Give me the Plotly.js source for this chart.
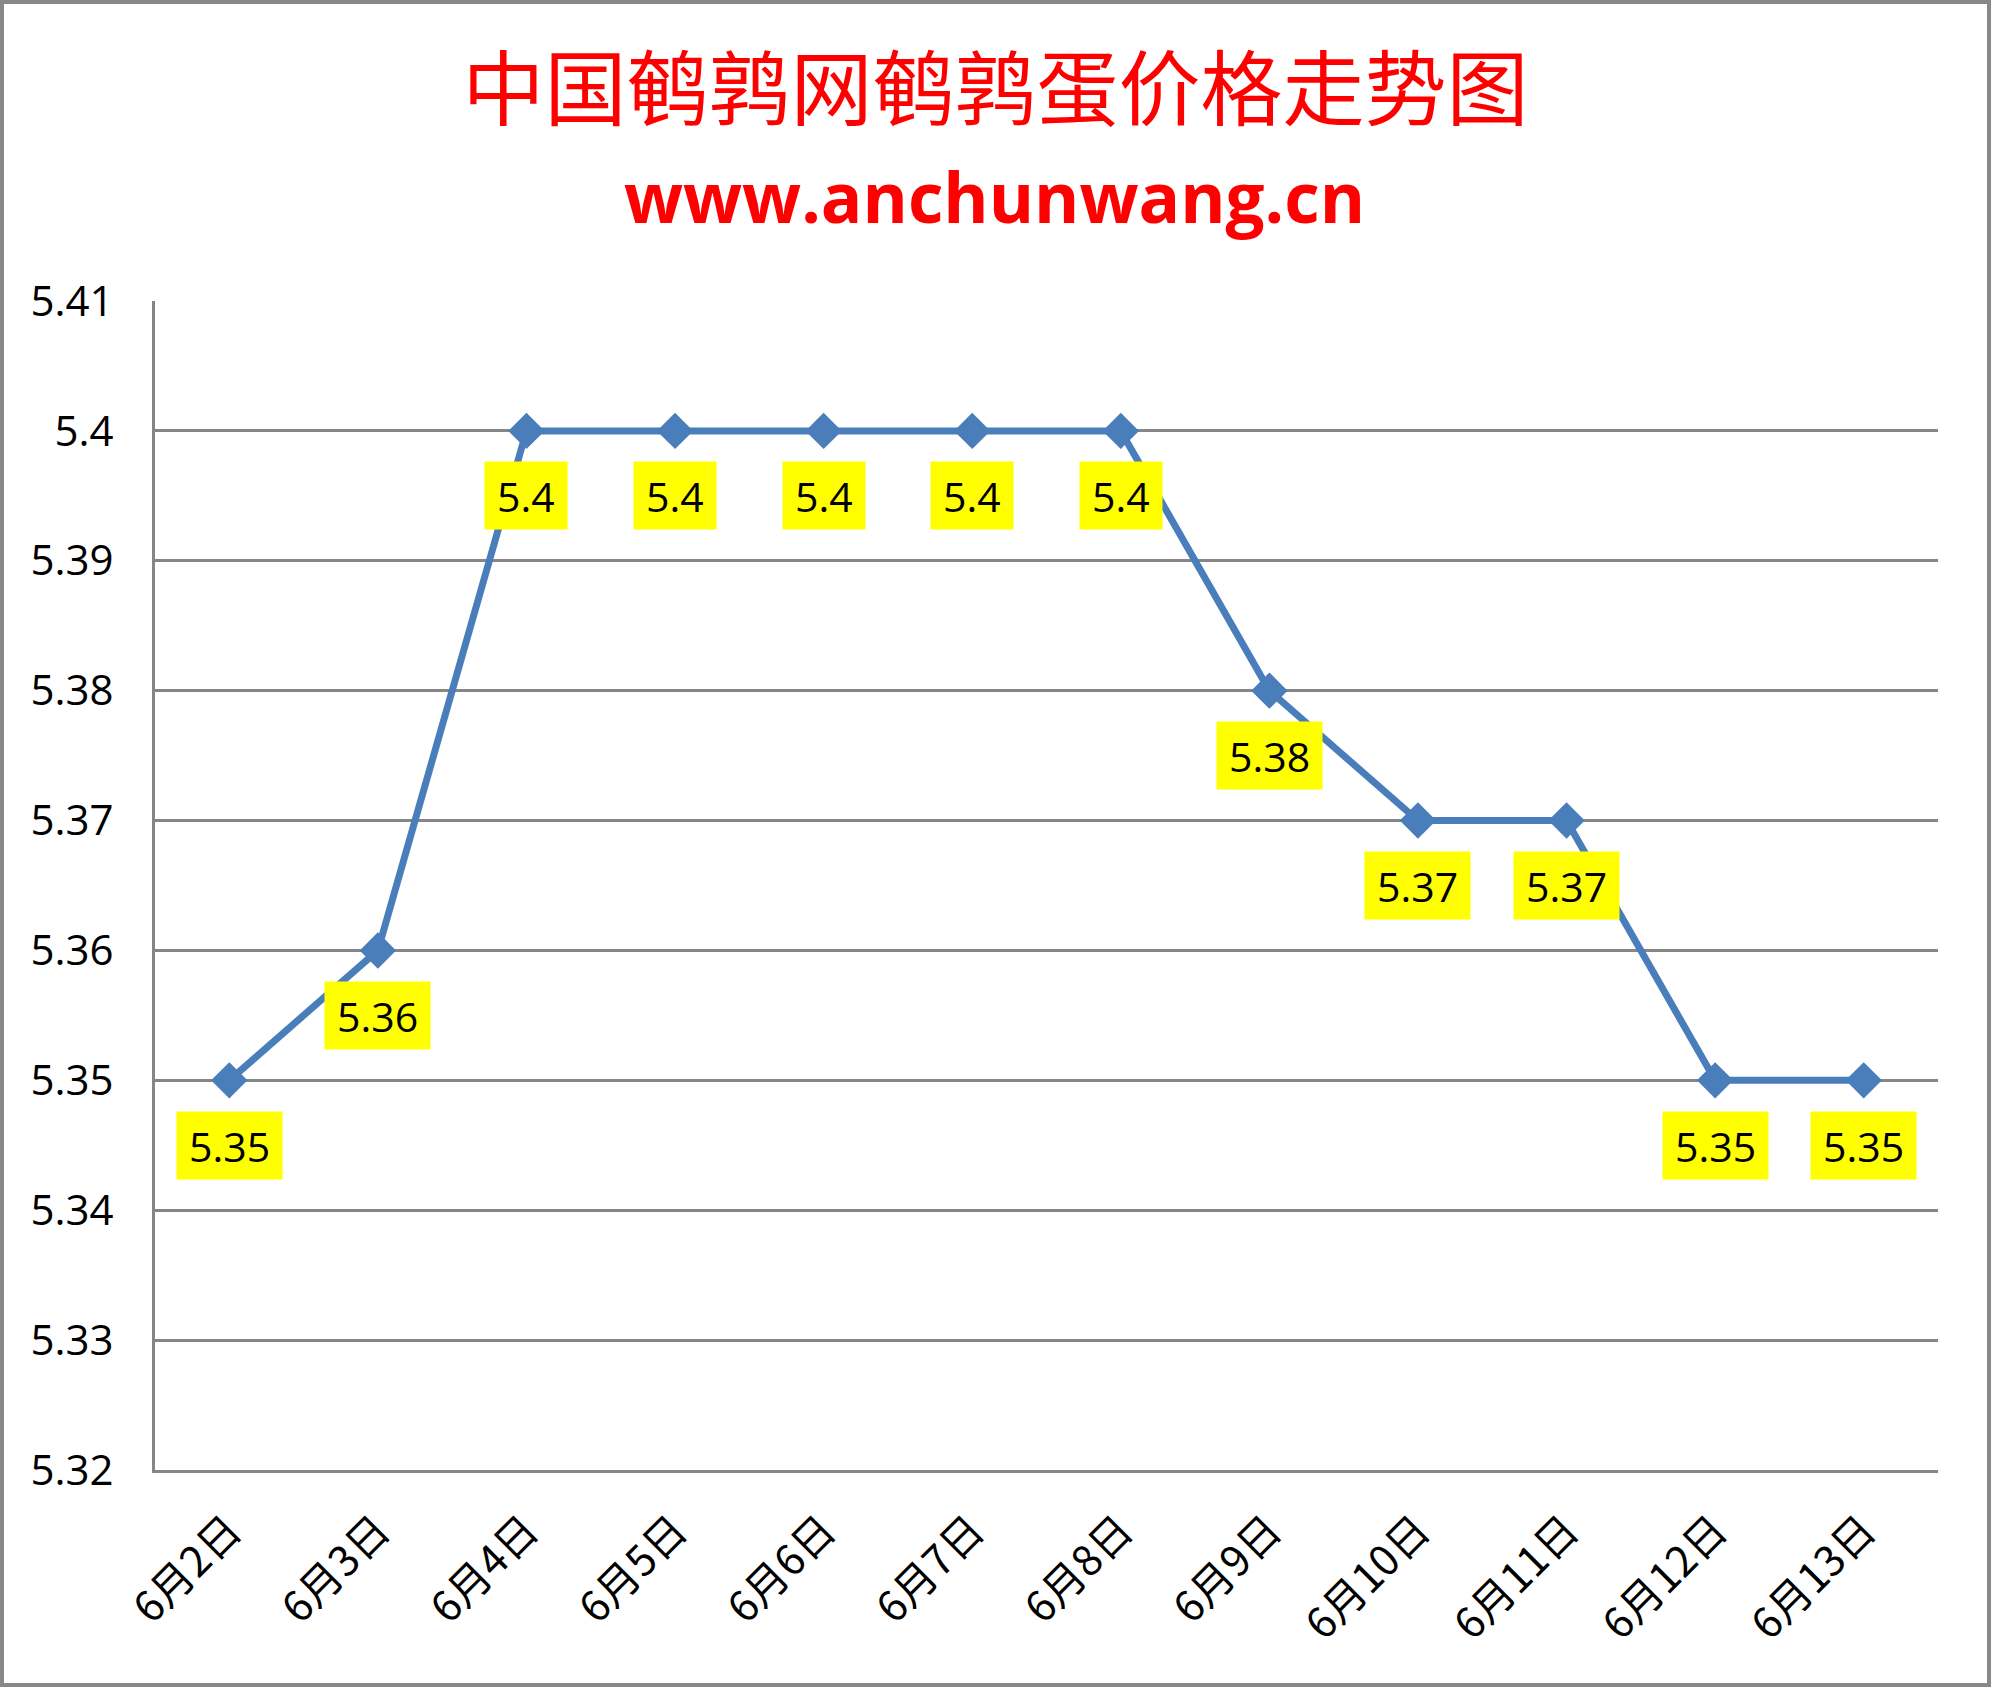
<!DOCTYPE html>
<html>
<head>
<meta charset="utf-8">
<script src="https://cdn.plot.ly/plotly-3.0.1.min.js"></script>
<style>
  html, body { margin: 0; padding: 0; background: #fff; }
  #wrap { position: relative; width: 1991px; height: 1687px; }
  #chart { position: absolute; left: 0; top: 0; width: 1991px; height: 1687px; }
  #frame { position: absolute; left: 0; top: 0; width: 1991px; height: 1687px;
           box-sizing: border-box; border: 4px solid #888888; pointer-events: none; }
</style>
</head>
<body>
<div id="wrap"><div id="chart"></div><div id="frame"></div></div>
<script>
const categories = ["6月2日","6月3日","6月4日","6月5日","6月6日","6月7日","6月8日","6月9日","6月10日","6月11日","6月12日","6月13日"];
const prices = [5.35, 5.36, 5.40, 5.40, 5.40, 5.40, 5.40, 5.38, 5.37, 5.37, 5.35, 5.35];
const yTickVals = [5.32, 5.33, 5.34, 5.35, 5.36, 5.37, 5.38, 5.39, 5.40, 5.41];
const yTickText = ["5.32","5.33","5.34","5.35","5.36","5.37","5.38","5.39","5.4","5.41"];
const titleText = "中国鹌鹑网鹌鹑蛋价格走势图";
const subtitleText = "www.anchunwang.cn";

const trace = {
  type: "scatter",
  mode: "lines+markers",
  x: categories,
  y: prices,
  line: { color: "#4A7EBB", width: 7 },
  marker: { symbol: "diamond", size: 28, color: "#4A7EBB" },
  hoverinfo: "x+y"
};

const labelAnnotations = categories.map((c, i) => ({
  x: c, y: prices[i], xref: "x", yref: "y",
  text: String(prices[i]),
  showarrow: false,
  yshift: -65,
  bgcolor: "#FFFF00",
  borderpad: 12,
  height: 43,
  font: { family: "Open Sans, sans-serif", size: 41, color: "#000000" }
}));

labelAnnotations.push({
  xref: "paper", yref: "paper",
  x: 0.471, y: 1.090,
  xanchor: "center", yanchor: "middle",
  text: "<b>" + subtitleText + "</b>",
  showarrow: false,
  font: { family: "Open Sans, sans-serif", size: 69, color: "#FF0000" }
});

const layout = {
  width: 1991, height: 1687,
  paper_bgcolor: "#FFFFFF", plot_bgcolor: "#FFFFFF",
  margin: { l: 155, r: 53, t: 301, b: 217, pad: 0 },
  showlegend: false,
  font: { family: "Open Sans, Noto Sans CJK SC, sans-serif", color: "#000000" },
  title: {
    text: titleText,
    xref: "container", yref: "container",
    x: 0.5, y: 0.9467, xanchor: "center", yanchor: "middle",
    font: { family: "Noto Sans CJK SC, sans-serif", size: 82, color: "#FF0000" }
  },
  xaxis: {
    type: "category",
    range: [-0.5, 11.5],
    showgrid: false,
    showline: true, linecolor: "#868686", linewidth: 3,
    ticks: "",
    tickangle: -45,
    ticklabelstandoff: 16,
    tickfont: { family: "Noto Sans CJK SC, sans-serif", size: 42, color: "#000000" },
    zeroline: false,
    automargin: false,
    fixedrange: true
  },
  yaxis: {
    range: [5.32, 5.41],
    tickmode: "array",
    tickvals: yTickVals,
    ticktext: yTickText,
    showgrid: true, gridcolor: "#868686", gridwidth: 3,
    showline: true, linecolor: "#868686", linewidth: 3,
    ticks: "",
    ticklabelstandoff: 30,
    tickfont: { family: "Open Sans, sans-serif", size: 42, color: "#000000" },
    zeroline: false,
    automargin: false,
    fixedrange: true
  },
  annotations: labelAnnotations
};

Plotly.newPlot("chart", [trace], layout, { displayModeBar: false, staticPlot: true });
</script>
</body>
</html>
